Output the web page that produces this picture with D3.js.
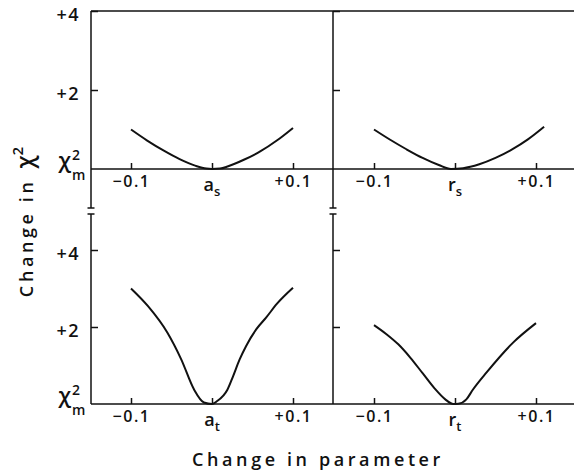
<!DOCTYPE html>
<html>
<head>
<meta charset="utf-8">
<script src="https://cdn.jsdelivr.net/npm/d3@7"></script>
<style>
  body { margin: 0; background: #fff; }
  text { font-family: "Open Sans", "DejaVu Sans", sans-serif; font-weight: 600; fill: #111; }
</style>
</head>
<body>
<div id="vis"></div>
<script>
// ---- data (parameter offset, change in chi^2) ----
const xTicks = [-0.1, 0, 0.1];
const yTicks = [2, 4];
const yTickLabels = ["+2", "+4"];

const curveAs = [[-0.1, 1.0], [-0.08, 0.72], [-0.06, 0.47], [-0.04, 0.25], [-0.02, 0.08], [-0.007, 0.01],
  [0, 0], [0.01, 0.01], [0.02, 0.07], [0.04, 0.24], [0.06, 0.45], [0.08, 0.72], [0.1, 1.04]];
const curveRs = [[-0.1, 1.0], [-0.08, 0.74], [-0.06, 0.5], [-0.04, 0.28], [-0.02, 0.1], [-0.005, 0],
  [0.01, 0.02], [0.03, 0.12], [0.05, 0.28], [0.07, 0.49], [0.09, 0.75], [0.11, 1.07]];
const curveAt = [[-0.1, 3.0], [-0.079, 2.54], [-0.055, 1.85], [-0.038, 1.16], [-0.022, 0.37], [-0.01, 0.04],
  [0, 0], [0.006, 0.07], [0.019, 0.37], [0.026, 0.72], [0.034, 1.15], [0.042, 1.5], [0.055, 1.95],
  [0.067, 2.25], [0.08, 2.6], [0.1, 3.02]];
const curveRt = [[-0.1, 2.05], [-0.085, 1.82], [-0.07, 1.55], [-0.055, 1.2], [-0.04, 0.8], [-0.025, 0.4],
  [-0.012, 0.12], [-0.002, 0], [0.004, 0.005], [0.014, 0.12], [0.022, 0.37], [0.039, 0.82], [0.072, 1.6], [0.1, 2.1]];

const panels = [
  { data: curveAs, sym: "a", sub: "s", col: 0, row: 0 },
  { data: curveRs, sym: "r", sub: "s", col: 1, row: 0 },
  { data: curveAt, sym: "a", sub: "t", col: 0, row: 1 },
  { data: curveRt, sym: "r", sub: "t", col: 1, row: 1 },
];

// ---- layout ----
const W = 574, H = 473;
const cols = [{ axis: 91, range: [131, 293] }, { axis: 333, range: [374, 536] }];
const rows = [{ range: [169, 11], top: 11, bottom: 208 }, { range: [404, 250], top: 214, bottom: 404 }];
const right = W;
const ink = "#111";

const svg = d3.select("#vis").append("svg")
  .attr("width", W).attr("height", H);

// top border and baselines
svg.append("line").attr("x1", cols[0].axis).attr("x2", right)
  .attr("y1", rows[0].top).attr("y2", rows[0].top)
  .attr("stroke", ink).attr("stroke-width", 1.5);

rows.forEach(r => {
  svg.append("line").attr("x1", cols[0].axis).attr("x2", right)
    .attr("y1", r.range[0]).attr("y2", r.range[0])
    .attr("stroke", ink).attr("stroke-width", 1.5);
});

// vertical axes with break caps
cols.forEach(c => {
  rows.forEach(r => {
    svg.append("line").attr("x1", c.axis).attr("x2", c.axis)
      .attr("y1", r.top).attr("y2", r.bottom)
      .attr("stroke", ink).attr("stroke-width", 1.5);
  });
  [rows[0].bottom, rows[1].top].forEach(y => {
    svg.append("line").attr("x1", c.axis - 3.5).attr("x2", c.axis + 3.5)
      .attr("y1", y).attr("y2", y)
      .attr("stroke", ink).attr("stroke-width", 1.5);
  });
});

const line = d3.line().curve(d3.curveMonotoneX);

panels.forEach(p => {
  const c = cols[p.col], r = rows[p.row];
  const x = d3.scaleLinear().domain([-0.1, 0.1]).range(c.range);
  const y = d3.scaleLinear().domain([0, 4]).range(r.range);

  // x ticks pointing up, labels below
  const xAxis = svg.append("g")
    .attr("transform", `translate(0,${r.range[0]})`)
    .call(d3.axisBottom(x).tickValues(xTicks).tickSizeInner(-6).tickSizeOuter(0).tickPadding(7)
      .tickFormat(d => d === 0 ? "" : (d < 0 ? "\u2212" : "+") + "0.1"));
  xAxis.select(".domain").remove();
  xAxis.selectAll(".tick line").attr("stroke", ink).attr("stroke-width", 1.5);
  xAxis.selectAll(".tick text").attr("font-size", 16).attr("fill", ink)
    .style("font-family", "'Open Sans'").style("font-weight", 600).attr("letter-spacing", 1.5);

  // centre label with subscript
  const lab = svg.append("text")
    .attr("x", x(0)).attr("y", r.range[0] + 22)
    .attr("text-anchor", "middle").attr("font-size", 18);
  lab.append("tspan").text(p.sym);
  lab.append("tspan").attr("font-size", 13).attr("dy", 5).text(p.sub);

  // y ticks pointing into panel
  const yAxis = svg.append("g")
    .attr("transform", `translate(${c.axis},0)`)
    .call(d3.axisRight(y).tickValues(yTicks).tickSize(7).tickFormat(""));
  yAxis.select(".domain").remove();
  yAxis.selectAll(".tick line").attr("stroke", ink).attr("stroke-width", 1.5);

  // curve
  svg.append("path")
    .datum(p.data)
    .attr("d", line.x(d => x(d[0])).y(d => y(d[1])))
    .attr("fill", "none").attr("stroke", ink).attr("stroke-width", 2);

  // y labels on the left axis only (sit a little below their ticks)
  if (p.col === 0) {
    svg.selectAll(null).data(yTicks).join("text")
      .attr("x", c.axis - 11).attr("y", d => y(d) + 4)
      .attr("dy", "0.36em").attr("text-anchor", "end")
      .attr("font-size", 18).attr("letter-spacing", 1.5)
      .text((d, i) => yTickLabels[i]);

    const base = r.range[0];
    svg.append("text").attr("x", c.axis - 20).attr("y", base - 1)
      .attr("text-anchor", "end").attr("font-size", 22).text("\u03c7");
    svg.append("text").attr("x", c.axis - 19).attr("y", base - 9)
      .attr("font-size", 14).text("2");
    svg.append("text").attr("x", c.axis - 19).attr("y", base + 11)
      .attr("font-size", 14).text("m");
  }
});

// axis titles
svg.append("text")
  .attr("x", 318).attr("y", 466)
  .attr("text-anchor", "middle").attr("font-size", 18).attr("letter-spacing", 3.6)
  .text("Change in parameter");

const yt = svg.append("text")
  .attr("transform", "translate(33,222) rotate(-90)")
  .attr("text-anchor", "middle").attr("font-size", 18);
yt.append("tspan").attr("letter-spacing", 3.6).text("Change in");
yt.append("tspan").attr("dx", 10).attr("font-size", 23).text("\u03c7");
yt.append("tspan").attr("dy", -10).attr("font-size", 15).text("2");
</script>
</body>
</html>
